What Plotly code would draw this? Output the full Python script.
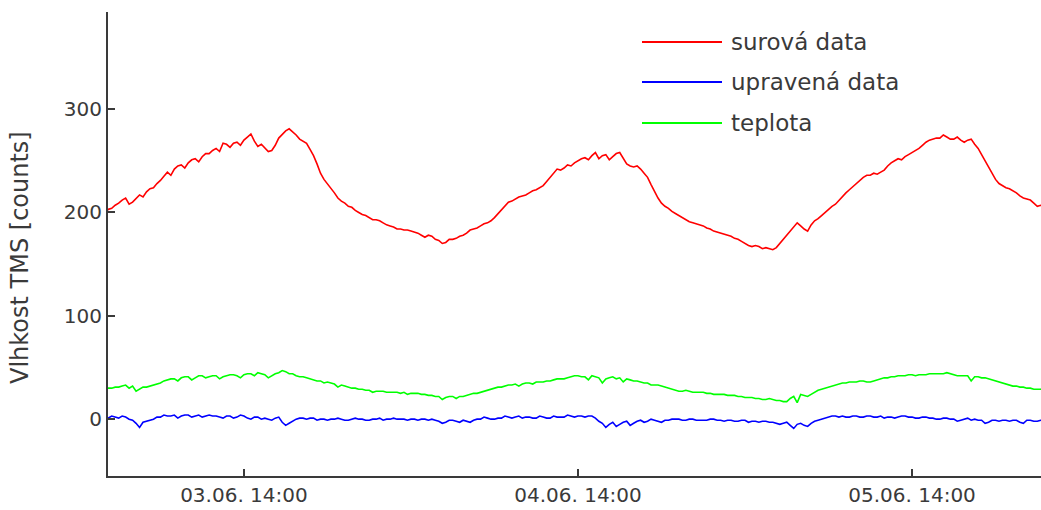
import pandas as pd
import plotly.graph_objects as go

# quarter-hourly readings, 03.06. 04:00 -> 05.06. 23:30 (one row = 4 hours)
surova = [
    200, 203, 204, 207, 209, 212, 214, 208, 210, 214, 217, 215, 220, 223, 224, 228,
    231, 235, 239, 236, 242, 245, 246, 243, 248, 251, 252, 249, 254, 257, 257, 260,
    262, 259, 267, 266, 263, 267, 268, 265, 270, 273, 276, 269, 264, 266, 262, 259,
    260, 265, 272, 276, 279, 281, 278, 275, 271, 269, 267, 261, 255, 247, 238, 232,
    228, 223, 219, 214, 211, 209, 206, 205, 202, 200, 198, 197, 195, 193, 193, 192,
    190, 188, 187, 186, 184, 184, 183, 183, 182, 181, 180, 178, 176, 178, 177, 174,
    173, 170, 171, 174, 174, 175, 177, 178, 180, 183, 184, 185, 187, 189, 190, 192,
    195, 199, 203, 207, 210, 211, 213, 215, 216, 217, 219, 221, 222, 224, 226, 230,
    234, 239, 242, 241, 243, 246, 245, 248, 250, 252, 253, 251, 255, 258, 252, 255,
    256, 251, 254, 257, 258, 252, 247, 245, 244, 245, 242, 238, 234, 227, 220, 214,
    209, 206, 204, 201, 199, 197, 195, 193, 191, 190, 189, 188, 187, 185, 184, 182,
    181, 180, 179, 178, 177, 175, 174, 172, 170, 168, 167, 168, 167, 165, 166, 165,
    164, 166, 170, 174, 178, 183, 186, 190, 187, 184, 182, 188, 192, 194, 197, 200,
    203, 206, 208, 212, 215, 219, 222, 225, 228, 231, 234, 236, 236, 238, 237, 239,
    241, 245, 248, 250, 252, 251, 254, 256, 258, 260, 262, 265, 268, 270, 271, 272,
    272, 275, 273, 271, 271, 273, 270, 268, 270, 271, 266, 262, 256, 250, 245, 238,
    232, 228, 226, 224, 223, 221, 219, 216, 214, 213, 212, 209, 206, 207, 205,
]

upravena = [
    2, 1, 3, 2, 1, 3, 2, 0, -1, -4, -8, -3, -2, -1, 0, 2,
    2, 4, 3, 3, 4, 1, 3, 4, 4, 2, 3, 4, 2, 3, 4, 3,
    3, 2, 1, 3, 3, 1, 2, 4, 3, 1, 0, 2, 2, 0, 1, 0,
    -1, 1, 2, -3, -6, -4, -2, 0, 1, 1, 0, 1, 1, -1, 0, 0,
    -1, 0, 0, 1, 0, -1, -1, 0, 1, 0, 0, -1, -1, 0, 0, 1,
    -1, 0, 0, 1, 0, 0, 0, -1, 0, 0, -1, 0, 0, -1, 0, -1,
    -2, -4, -3, -1, -1, -2, -3, -1, -2, -3, -1, 0, 0, 2, 1, 0,
    0, 1, 1, 3, 2, 1, 2, 3, 1, 2, 2, 1, 1, 3, 2, 1,
    1, 3, 2, 2, 2, 4, 3, 2, 3, 3, 2, 3, 3, 1, -2, -4,
    -8, -5, -3, -7, -5, -3, -2, -6, -4, -2, -1, -3, -2, 0, -1, -2,
    -3, -1, -1, 0, 0, 0, -1, -1, 0, 0, -1, -1, -1, -1, 0, 0,
    -1, -1, -2, -1, -1, -2, -2, -1, -1, -3, -2, -2, -3, -2, -2, -3,
    -3, -4, -5, -4, -3, -6, -9, -5, -4, -6, -7, -4, -2, -1, 0, 1,
    2, 3, 3, 2, 3, 2, 2, 3, 3, 2, 2, 3, 3, 2, 2, 3,
    1, 2, 2, 1, 2, 3, 3, 2, 2, 1, 1, 2, 2, 1, 1, 0,
    0, 1, 1, 0, 0, -2, -1, 0, 1, -1, 0, -1, -1, -4, -3, -1,
    -1, -2, -1, -1, -2, -1, -1, -3, -4, -1, -1, -2, -2, -1, -1,
]

teplota = [
    30, 30, 30, 31, 31, 32, 33, 30, 32, 27, 29, 31, 31, 32, 33, 34,
    35, 37, 38, 39, 39, 37, 40, 41, 41, 38, 40, 42, 42, 40, 41, 42,
    42, 39, 41, 42, 43, 43, 42, 40, 43, 44, 44, 42, 45, 44, 43, 40,
    42, 44, 45, 47, 46, 44, 44, 42, 41, 41, 40, 39, 38, 37, 37, 35,
    36, 35, 34, 31, 33, 32, 31, 30, 30, 29, 29, 28, 28, 26, 27, 27,
    27, 26, 26, 26, 26, 25, 26, 24, 25, 25, 25, 24, 24, 23, 23, 22,
    22, 19, 21, 22, 22, 20, 22, 22, 23, 24, 25, 25, 26, 27, 28, 29,
    30, 31, 31, 32, 33, 33, 34, 32, 34, 35, 35, 34, 36, 36, 36, 37,
    37, 38, 39, 39, 39, 40, 41, 42, 42, 41, 41, 38, 42, 41, 40, 35,
    39, 40, 41, 39, 40, 36, 39, 38, 37, 37, 36, 35, 35, 33, 33, 33,
    32, 31, 30, 29, 28, 27, 27, 28, 27, 26, 26, 26, 26, 25, 25, 24,
    24, 24, 24, 23, 23, 23, 22, 22, 21, 21, 21, 20, 20, 19, 19, 20,
    19, 18, 18, 17, 17, 20, 22, 16, 24, 23, 22, 24, 26, 28, 29, 30,
    31, 32, 33, 34, 35, 35, 36, 36, 36, 37, 37, 36, 36, 37, 38, 39,
    40, 40, 41, 41, 42, 42, 42, 43, 43, 42, 43, 43, 43, 44, 44, 44,
    44, 44, 45, 44, 43, 42, 42, 42, 42, 37, 41, 41, 40, 40, 39, 38,
    37, 36, 35, 34, 33, 32, 32, 31, 31, 30, 30, 29, 29, 29, 30,
]

times = pd.date_range("2014-06-03 04:00", periods=len(surova), freq="15min")

series_names = ["surová data", "upravená data", "teplota"]
series_colors = ["#ff0000", "#0000ff", "#00ff00"]
series_values = [surova, upravena, teplota]

x_tickvals = ["2014-06-03 14:00", "2014-06-04 14:00", "2014-06-05 14:00"]
x_ticktext = ["03.06. 14:00", "04.06. 14:00", "05.06. 14:00"]
y_tickvals = [0, 100, 200, 300]

W, H = 1041, 510
ML, MR, MT, MB = 108, 0, 12, 34
PW, PH = W - ML - MR, H - MT - MB
FONT = "DejaVu Sans"
INK = "#3a3a3a"


def px_x(px):
    return (px - ML) / PW


def px_y(py):
    return (H - MB - py) / PH


fig = go.Figure()
# draw order: green, blue, red on top
for i in (2, 1, 0):
    vals = series_values[i]
    fig.add_trace(go.Scatter(
        x=times[:len(vals)], y=vals, mode="lines", name=series_names[i],
        line=dict(color=series_colors[i], width=1.6), showlegend=False,
    ))

# legend drawn as long line samples with labels
legend_rows = [42, 82, 123]
for name, color, row in zip(series_names, series_colors, legend_rows):
    fig.add_shape(type="line", xref="paper", yref="paper",
                  x0=px_x(642), x1=px_x(722), y0=px_y(row), y1=px_y(row),
                  line=dict(color=color, width=2))
    fig.add_annotation(xref="paper", yref="paper", x=px_x(729), y=px_y(row),
                       text=name, showarrow=False, xanchor="left", yanchor="middle",
                       font=dict(family=FONT, size=23, color=INK))

fig.add_annotation(xref="paper", yref="paper", x=px_x(20), y=px_y(258),
                   text="Vlhkost TMS [counts]", textangle=-90, showarrow=False,
                   xanchor="center", yanchor="middle",
                   font=dict(family=FONT, size=24, color=INK))

fig.update_layout(
    width=W, height=H,
    margin=dict(l=ML, r=MR, t=MT, b=MB),
    paper_bgcolor="white", plot_bgcolor="white",
    font=dict(family=FONT, color=INK),
)
fig.update_xaxes(
    range=["2014-06-03 04:14", "2014-06-05 23:16"],
    tickvals=x_tickvals, ticktext=x_ticktext,
    ticks="inside", ticklen=7, tickwidth=2, tickcolor=INK,
    showline=True, linewidth=2, linecolor=INK,
    showgrid=False, zeroline=False,
    tickfont=dict(family=FONT, size=20, color=INK),
)
fig.update_yaxes(
    range=[-55, 394],
    tickvals=y_tickvals,
    ticks="inside", ticklen=7, tickwidth=2, tickcolor=INK,
    showline=True, linewidth=2, linecolor=INK,
    showgrid=False, zeroline=False,
    tickfont=dict(family=FONT, size=20, color=INK),
)

fig.write_html("out.html")
